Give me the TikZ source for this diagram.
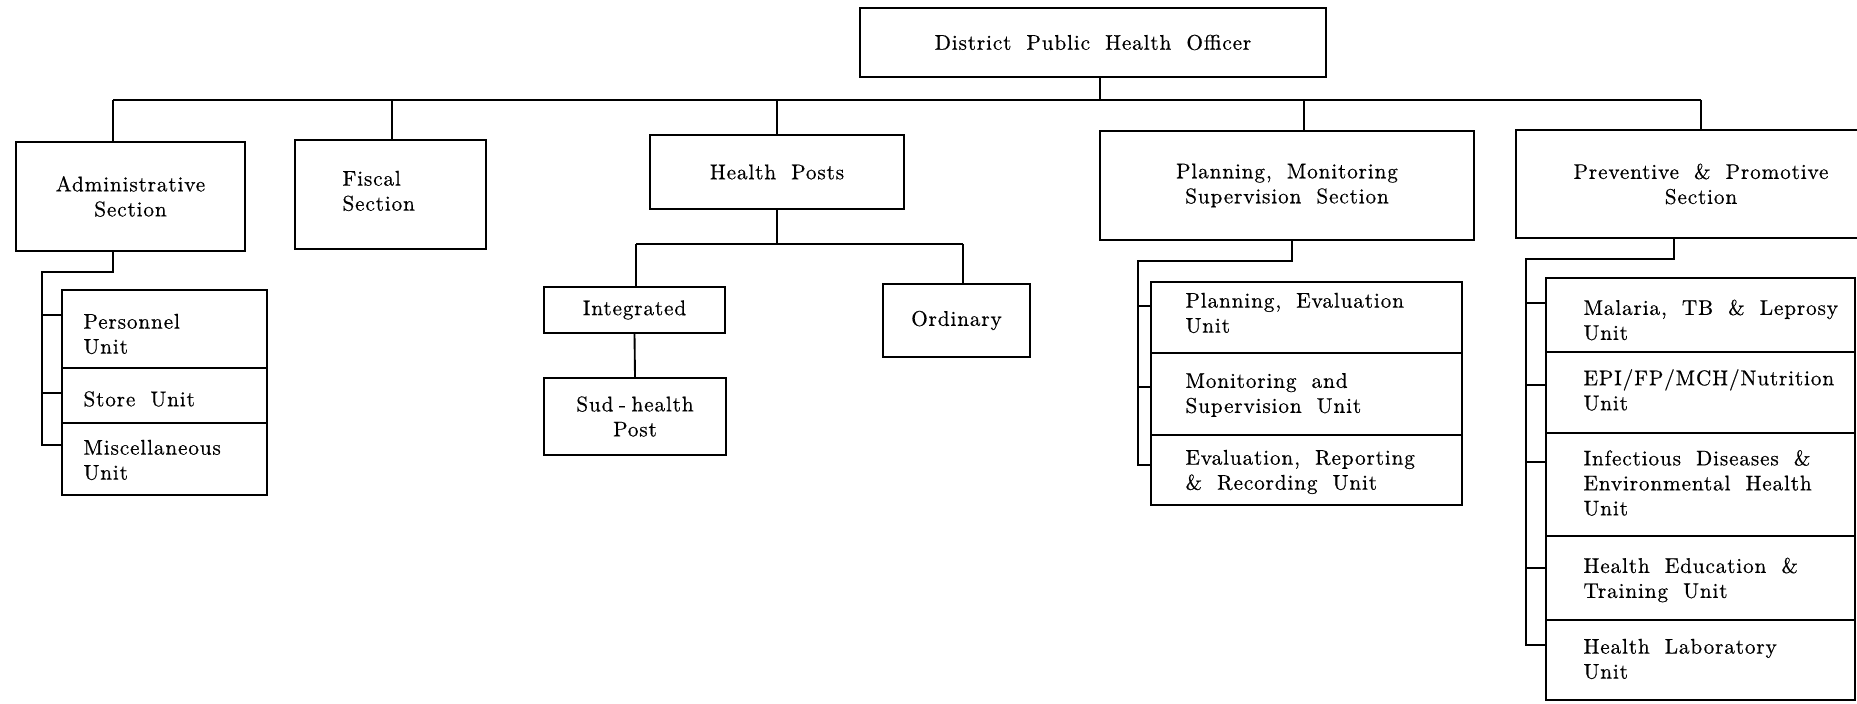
\documentclass[tikz,border=0pt]{standalone}
\usepackage{fontspec}
\setmainfont{lmroman10-regular.otf}[LetterSpace=4,WordSpace=1.9,FakeBold=0.5]
\newcommand\lbl{\fontsize{8.5}{10}\selectfont}
\tikzset{
  ln/.style={line width=0.75pt},
  box/.style={draw, line width=0.75pt, rectangle, inner sep=0pt, align=center, font=\lbl},
  txt/.style={inner sep=0pt, align=left, anchor=west, font=\lbl},
}
\newcommand\mkbox[6]{\node[box,minimum width={(#4-#2)*0.4pt},minimum height={(#5-#3)*0.4pt}] (#1) at ({(#2+#4)/2},{(#3+#5)/2}) {#6};}
\begin{document}
\begin{tikzpicture}[x=0.4pt,y=-0.4pt]
\useasboundingbox (0,0) rectangle (1857,704);

% top level
\mkbox{dpho}{860}{8}{1326}{77}{District Public Health Officer}
\mkbox{admin}{16}{142}{245}{251}{Administrative\\Section}
\mkbox{fiscal}{295}{140}{486}{249}{}
\node[txt] (fiscalT) at (342,191) {Fiscal\\Section};
\mkbox{hp}{650}{135}{904}{209}{Health Posts}
\mkbox{plan}{1100}{131}{1474}{240}{Planning, Monitoring\\Supervision Section}
\mkbox{prev}{1516}{130}{1886}{238}{Preventive \& Promotive\\Section}

% admin units
\mkbox{aU1}{62}{290}{267}{368}{}
\mkbox{aU2}{62}{368}{267}{423}{}
\mkbox{aU3}{62}{423}{267}{495}{}
\node[txt] (aT1) at (83,334) {Personnel\\Unit};
\node[txt] (aT2) at (83,399) {Store Unit};
\node[txt] (aT3) at (83,460) {Miscellaneous\\Unit};

% health posts
\mkbox{integ}{544}{287}{725}{333}{Integrated}
\mkbox{ord}{883}{284}{1030}{357}{Ordinary}
\mkbox{sub}{544}{378}{726}{455}{Sud\hspace{2.2pt}-\hspace{2.2pt}health\\Post}

% planning units
\mkbox{pU1}{1151}{282}{1462}{353}{}
\mkbox{pU2}{1151}{353}{1462}{435}{}
\mkbox{pU3}{1151}{435}{1462}{505}{}
\node[txt] (pT1) at (1185,313) {Planning, Evaluation\\Unit};
\node[txt] (pT2) at (1185,395) {Monitoring and\\Supervision Unit};
\node[txt] (pT3) at (1185,472) {Evaluation, Reporting\\\& Recording Unit};

% preventive units
\mkbox{vU1}{1546}{278}{1855}{352}{}
\mkbox{vU2}{1546}{352}{1855}{433}{}
\mkbox{vU3}{1546}{433}{1855}{536}{}
\mkbox{vU4}{1546}{536}{1855}{620}{}
\mkbox{vU5}{1546}{620}{1855}{700}{}
\node[txt] (vT1) at (1583,320) {Malaria, TB \& Leprosy\\Unit};
\node[txt] (vT2) at (1583,390) {EPI/FP/MCH/Nutrition\\Unit};
\node[txt] (vT3) at (1583,483) {Infectious Diseases \&\\Environmental Health\\Unit};
\node[txt] (vT4) at (1583,580) {Health Education \&\\Training Unit};
\node[txt] (vT5) at (1583,659) {Health Laboratory\\Unit};

% main bus
\coordinate (busL) at (113,100);
\coordinate (busR) at (1701,100);
\coordinate (dJ) at (1100,100);
\coordinate (fJ) at (392,100);
\coordinate (hJ) at (777,100);
\coordinate (pJ) at (1304,100);
\draw[ln] (busL) -- (busR);
\draw[ln] (dJ |- dpho.south) -- (dJ);
\draw[ln] (busL) -- (busL |- admin.north);
\draw[ln] (fJ) -- (fJ |- fiscal.north);
\draw[ln] (hJ) -- (hp.north);
\draw[ln] (pJ) -- (pJ |- plan.north);
\draw[ln] (busR) -- (busR |- prev.north);

% admin branch
\coordinate (aD) at (113,272);
\coordinate (aK) at (42,272);
\draw[ln] (aD |- admin.south) -- (aD) -- (aK) -- (aK |- 0,445) -- (aU3.west |- 0,445);
\draw[ln] (aK |- 0,315) -- (aU1.west |- 0,315);
\draw[ln] (aK |- 0,393) -- (aU2.west |- 0,393);

% health posts branch
\coordinate (hD) at (777,244);
\coordinate (hL) at (636,244);
\coordinate (hR) at (963,244);
\draw[ln] (hp.south) -- (hD);
\draw[ln] (hL) -- (hR);
\draw[ln] (hL) -- (hL |- integ.north);
\draw[ln] (hR) -- (hR |- ord.north);
\draw[ln] (integ.south) -- (sub.north);

% planning branch
\coordinate (pD) at (1292,261);
\coordinate (pK) at (1138,261);
\draw[ln] (pD |- plan.south) -- (pD) -- (pK) -- (pK |- 0,465) -- (pU3.west |- 0,465);
\draw[ln] (pK |- 0,306) -- (pU1.west |- 0,306);
\draw[ln] (pK |- 0,387) -- (pU2.west |- 0,387);

% preventive branch
\coordinate (vD) at (1674,259);
\coordinate (vK) at (1526,259);
\draw[ln] (vD |- prev.south) -- (vD) -- (vK) -- (vK |- 0,645) -- (vU5.west |- 0,645);
\draw[ln] (vK |- 0,303) -- (vU1.west |- 0,303);
\draw[ln] (vK |- 0,385) -- (vU2.west |- 0,385);
\draw[ln] (vK |- 0,462) -- (vU3.west |- 0,462);
\draw[ln] (vK |- 0,568) -- (vU4.west |- 0,568);
\end{tikzpicture}
\end{document}
